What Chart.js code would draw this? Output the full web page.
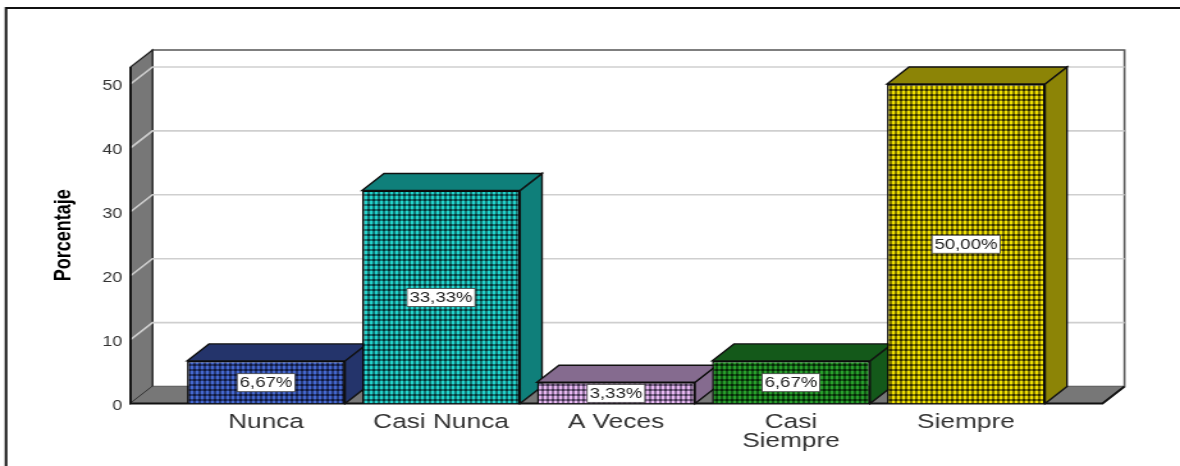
<!DOCTYPE html>
<html>
<head>
<meta charset="utf-8">
<title>Porcentaje</title>
<script src="https://cdn.jsdelivr.net/npm/chart.js@4"></script>
<style>
    html, body { margin: 0; padding: 0; background: #fff; overflow: hidden; }
    /* the source picture is stretched sideways and a bit soft, text included, so the whole canvas is too */
    #wrap { width: 922px; height: 466px; transform: scale(1.27983, 1); transform-origin: 0 0; filter: blur(0.35px); }
</style>
</head>
<body>
<div id="wrap"><canvas id="chart" width="922" height="466"></canvas></div>
<script>
const categories = ['Nunca', 'Casi Nunca', 'A Veces', ['Casi', 'Siempre'], 'Siempre'];
const percentages = [6.67, 33.33, 3.33, 6.67, 50.00];
const axisTitle = 'Porcentaje';

const frontColors = ['#4468d0', '#22d4cc', '#e8b8f2', '#28a02c', '#f0e000'];
const backColors = ['#10183a', '#083234', '#40324e', '#052406', '#302c00'];
const sideColors = ['#24346b', '#0f7f7a', '#856b8f', '#14591a', '#8c8406'];

const SX = 1180 / 922;
const DEPTH_X = 22 / SX;
const DEPTH_Y = 17;
const WALL_LEFT = 130.5 / SX;
const WALL_RIGHT = 1102.5 / SX;

function checkPattern(front, back) {
    const tile = document.createElement('canvas');
    tile.width = 4;
    tile.height = 5;
    const c = tile.getContext('2d');
    c.fillStyle = back;
    c.fillRect(0, 0, 4, 5);
    c.fillStyle = front;
    c.globalAlpha = 0.42;
    c.fillRect(1, 0, 2, 5);
    c.fillRect(0, 1, 4, 3);
    c.globalAlpha = 1;
    c.fillRect(1, 1, 2, 3);
    return document.getElementById('chart').getContext('2d').createPattern(tile, 'repeat');
}

function poly(ctx, pts, fill, stroke, width) {
    ctx.beginPath();
    ctx.moveTo(pts[0][0], pts[0][1]);
    for (let i = 1; i < pts.length; i++) ctx.lineTo(pts[i][0], pts[i][1]);
    ctx.closePath();
    if (fill) {
        ctx.fillStyle = fill;
        ctx.fill();
    }
    if (stroke) {
        ctx.strokeStyle = stroke;
        ctx.lineWidth = width;
        ctx.stroke();
    }
}

// frame, back wall, floor, side wall and the top/side faces of the bars
const boxPlugin = {
    id: 'box',
    beforeDatasetsDraw(chart) {
        const ctx = chart.ctx;
        const y = chart.scales.y;
        const top = chart.chartArea.top;
        const base = y.getPixelForValue(0);
        const dx = DEPTH_X, dy = DEPTH_Y;

        ctx.save();
        ctx.strokeStyle = '#111';
        ctx.lineWidth = 2;
        ctx.beginPath();
        ctx.moveTo(6 / SX, 466);
        ctx.lineTo(6 / SX, 8);
        ctx.lineTo(chart.width, 8);
        ctx.stroke();

        poly(ctx, [[WALL_LEFT + dx, top - dy], [WALL_RIGHT + dx, top - dy], [WALL_RIGHT + dx, base - dy], [WALL_LEFT + dx, base - dy]], '#fff', '#555', 1.6);
        poly(ctx, [[WALL_LEFT, top], [WALL_LEFT + dx, top - dy], [WALL_LEFT + dx, base - dy], [WALL_LEFT, base]], '#777', '#222', 1.2);
        poly(ctx, [[WALL_LEFT, base], [WALL_LEFT + dx, base - dy], [WALL_RIGHT + dx, base - dy], [WALL_RIGHT, base]], '#777', null, 0);

        ctx.strokeStyle = '#cfcfcf';
        ctx.lineWidth = 1.6;
        y.ticks.forEach(function (tick) {
            if (tick.value === 0) return;
            const p = y.getPixelForValue(tick.value);
            ctx.beginPath();
            ctx.moveTo(WALL_LEFT, p);
            ctx.lineTo(WALL_LEFT + dx, p - dy);
            ctx.lineTo(WALL_RIGHT + dx, p - dy);
            ctx.stroke();
        });

        // heavier left edge and the floor's front edge
        ctx.strokeStyle = '#111';
        ctx.lineWidth = 1.8;
        ctx.beginPath();
        ctx.moveTo(WALL_LEFT, top);
        ctx.lineTo(WALL_LEFT, base);
        ctx.lineTo(WALL_RIGHT, base);
        ctx.lineTo(WALL_RIGHT + dx, base - dy);
        ctx.stroke();

        chart.getDatasetMeta(0).data.forEach(function (bar, i) {
            const l = bar.x - bar.width / 2;
            const r = bar.x + bar.width / 2;
            poly(ctx, [[r, bar.y], [r + dx, bar.y - dy], [r + dx, bar.base - dy], [r, bar.base]], sideColors[i], '#111', 1.4);
            poly(ctx, [[l, bar.y], [l + dx, bar.y - dy], [r + dx, bar.y - dy], [r, bar.y]], sideColors[i], '#111', 1.4);
        });
        ctx.restore();
    },
    afterDatasetsDraw(chart) {
        const ctx = chart.ctx;
        ctx.save();
        ctx.font = '14.5px "Liberation Sans"';
        ctx.textAlign = 'center';
        ctx.textBaseline = 'middle';
        chart.getDatasetMeta(0).data.forEach(function (bar, i) {
            const text = percentages[i].toFixed(2).replace('.', ',') + '%';
            const cy = (bar.y + bar.base) / 2 + 0.5;
            const w = ctx.measureText(text).width + 4;
            ctx.fillStyle = '#fff';
            ctx.strokeStyle = '#444';
            ctx.lineWidth = 0.8;
            ctx.fillRect(bar.x - w / 2, cy - 9, w, 18);
            ctx.strokeRect(bar.x - w / 2, cy - 9, w, 18);
            ctx.fillStyle = '#222';
            ctx.fillText(text, bar.x, cy + 0.5);
        });
        ctx.restore();
    }
};

new Chart(document.getElementById('chart'), {
    type: 'bar',
    plugins: [boxPlugin],
    data: {
        labels: categories,
        datasets: [{
            data: percentages,
            backgroundColor: frontColors.map(function (c, i) { return checkPattern(c, backColors[i]); }),
            borderColor: '#0a0a0a',
            borderWidth: 1.5,
            barPercentage: 0.903,
            categoryPercentage: 1
        }]
    },
    options: {
        responsive: false,
        animation: false,
        devicePixelRatio: 1,
        layout: { padding: { top: 67, right: 1180 / SX - 1053.5 / SX, bottom: 0, left: 0 } },
        plugins: { legend: { display: false }, tooltip: { enabled: false } },
        scales: {
            x: {
                grid: { display: false },
                border: { display: false },
                afterFit: function (scale) { scale.height = 62.5; },
                ticks: {
                    autoSkip: false,
                    maxRotation: 0,
                    padding: 1,
                    color: '#333',
                    font: { family: '"Liberation Sans"', size: 20.5, lineHeight: 0.93 }
                }
            },
            y: {
                min: 0,
                max: 52.66,
                grid: { display: false, drawTicks: false },
                border: { display: false },
                afterFit: function (scale) { scale.width = 178.5 / SX; },
                title: {
                    display: true,
                    text: axisTitle,
                    color: '#000',
                    padding: { top: 39, bottom: 0 },
                    font: { family: '"Liberation Sans"', size: 18, weight: 'bold' }
                },
                ticks: {
                    stepSize: 10,
                    includeBounds: false,
                    padding: 44,
                    color: '#333',
                    // empty first line + tiny line height pushes the number down a little, as in the source
                    callback: function (value) { return ['', String(value)]; },
                    font: { family: '"Liberation Sans"', size: 14, lineHeight: '5px' }
                }
            }
        }
    }
});
</script>
</body>
</html>
